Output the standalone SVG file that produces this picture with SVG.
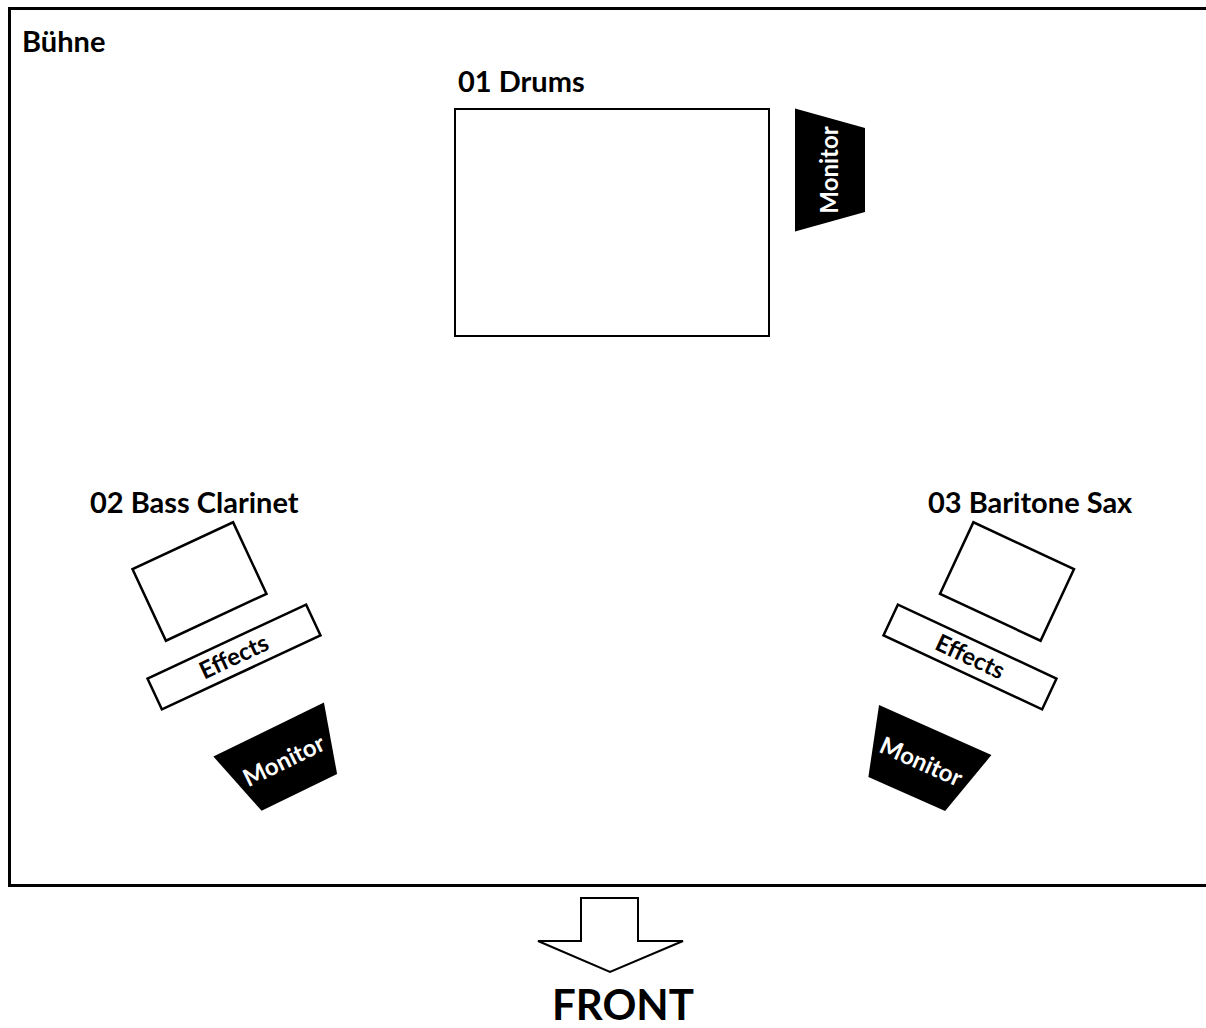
<svg xmlns="http://www.w3.org/2000/svg" width="1206" height="1028" viewBox="0 0 1206 1028">
<style>
  .lbl { font-family: Lato, "Open Sans", sans-serif; font-weight: bold; fill: #000; }
  .big { font-size: 29px; }
  .box { fill: #fff; stroke: #000; stroke-width: 2.5; }
  .mon { fill: #000; stroke: none; }
  .montext { font-family: Lato, "Open Sans", sans-serif; font-weight: bold; font-size: 24px; fill: #fff; text-anchor: middle; }
  .fx { font-family: Lato, "Open Sans", sans-serif; font-weight: bold; font-size: 24px; fill: #000; text-anchor: middle; }
</style>
<defs>
  <polygon id="monShape" points="-61.5,-35 61.5,-35 42,35 -42,35"/>
</defs>
<rect width="1206" height="1028" fill="#fff"/>
<g id="stage">
  <rect x="9.5" y="8.5" width="1210" height="877" fill="none" stroke="#000" stroke-width="3"/>
  <text class="lbl big" x="22" y="52">Bühne</text>
</g>
<g id="drums">
  <rect x="455" y="109" width="314" height="227" fill="#fff" stroke="#000" stroke-width="2"/>
  <text class="lbl big" x="458" y="92">01 Drums</text>
</g>
<g id="drums-monitor" transform="translate(830,170) rotate(-90)">
  <use href="#monShape" class="mon"/>
  <text class="montext" x="0" y="8">Monitor</text>
</g>
<g id="bass-clarinet">
  <text class="lbl big" x="90" y="513">02 Bass Clarinet</text>
  <rect class="box" x="-55.5" y="-39.5" width="111" height="79" transform="translate(199.5,581.5) rotate(-25)"/>
</g>
<g id="bass-clarinet-effects" transform="translate(234,657) rotate(-25)">
  <rect class="box" x="-87.5" y="-17" width="175" height="34"/>
  <text class="fx" x="0" y="8">Effects</text>
</g>
<g id="bass-clarinet-monitor" transform="translate(284,761) rotate(-26)">
  <use href="#monShape" class="mon"/>
  <text class="montext" x="0" y="8">Monitor</text>
</g>
<g id="baritone-sax">
  <text class="lbl big" x="928" y="513">03 Baritone Sax</text>
  <rect class="box" x="-55.5" y="-39.5" width="111" height="79" transform="translate(1007,581.5) rotate(25)"/>
</g>
<g id="baritone-sax-effects" transform="translate(970,657) rotate(25)">
  <rect class="box" x="-87.5" y="-17" width="175" height="34"/>
  <text class="fx" x="0" y="8">Effects</text>
</g>
<g id="baritone-sax-monitor" transform="translate(921,762) rotate(24)">
  <use href="#monShape" class="mon"/>
  <text class="montext" x="0" y="8">Monitor</text>
</g>
<g id="front">
  <polygon points="581,898 638,898 638,941 683,941 610,972 538,941 581,941" fill="#fff" stroke="#000" stroke-width="2" stroke-linejoin="miter"/>
  <text class="lbl" x="623" y="1020" font-size="42" text-anchor="middle">FRONT</text>
</g>
<g id="connectors"></g>
</svg>
